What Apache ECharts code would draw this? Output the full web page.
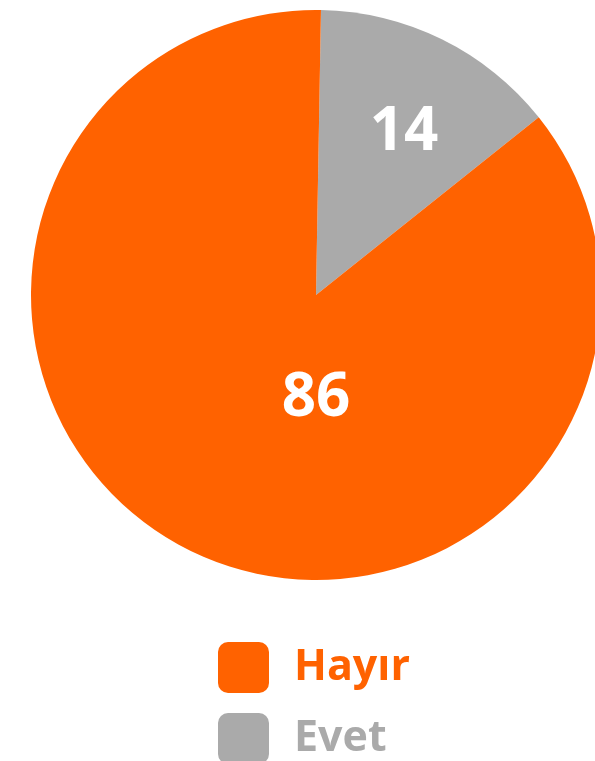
<!DOCTYPE html>
<html>
<head>
<meta charset="utf-8">
<script src="https://cdn.jsdelivr.net/npm/echarts@6/dist/echarts.min.js"></script>
<style>
  html, body { margin: 0; padding: 0; background: #ffffff; }
  #chart { width: 595px; height: 761px; }
</style>
</head>
<body>
<div id="chart"></div>
<script>
// pie data (clockwise from top)
const categories = ['Evet', 'Hayır'];
const values = [14, 86];
const colors = ['#aaaaaa', '#ff6200'];
const legendOrder = ['Hayır', 'Evet'];

const chart = echarts.init(document.getElementById('chart'));

// label offsets from the pie centre
const labelShift = [[88, -162], [0, 104]];

const roundSquare = 'path://M10,0H41A10,10 0 0 1 51,10V41A10,10 0 0 1 41,51H10A10,10 0 0 1 0,41V10A10,10 0 0 1 10,0Z';

chart.setOption({
  animation: false,
  legend: {
    orient: 'vertical',
    left: 218,
    top: 642,
    height: 160,
    padding: 0,
    itemWidth: 51,
    itemHeight: 51,
    itemGap: 20,
    icon: roundSquare,
    selectedMode: false,
    textStyle: {
      fontFamily: 'Open Sans',
      fontWeight: 'bold',
      fontSize: 43,
      padding: [0, 0, 0, 20]
    },
    data: legendOrder.map(name => ({
      name: name,
      textStyle: { color: colors[categories.indexOf(name)] }
    }))
  },
  series: [{
    type: 'pie',
    center: [316, 295],
    radius: [0, 285],
    startAngle: 89,
    clockwise: true,
    silent: true,
    itemStyle: { borderWidth: 0 },
    label: {
      show: true,
      position: 'center',
      formatter: '{c}',
      color: '#ffffff',
      fontFamily: 'Open Sans',
      fontWeight: 'bold',
      fontSize: 60
    },
    labelLine: { show: false },
    labelLayout: function (p) {
      return { dx: labelShift[p.dataIndex][0], dy: labelShift[p.dataIndex][1] };
    },
    data: categories.map((name, i) => ({
      name: name,
      value: values[i],
      itemStyle: { color: colors[i] }
    }))
  }]
});
</script>
</body>
</html>
